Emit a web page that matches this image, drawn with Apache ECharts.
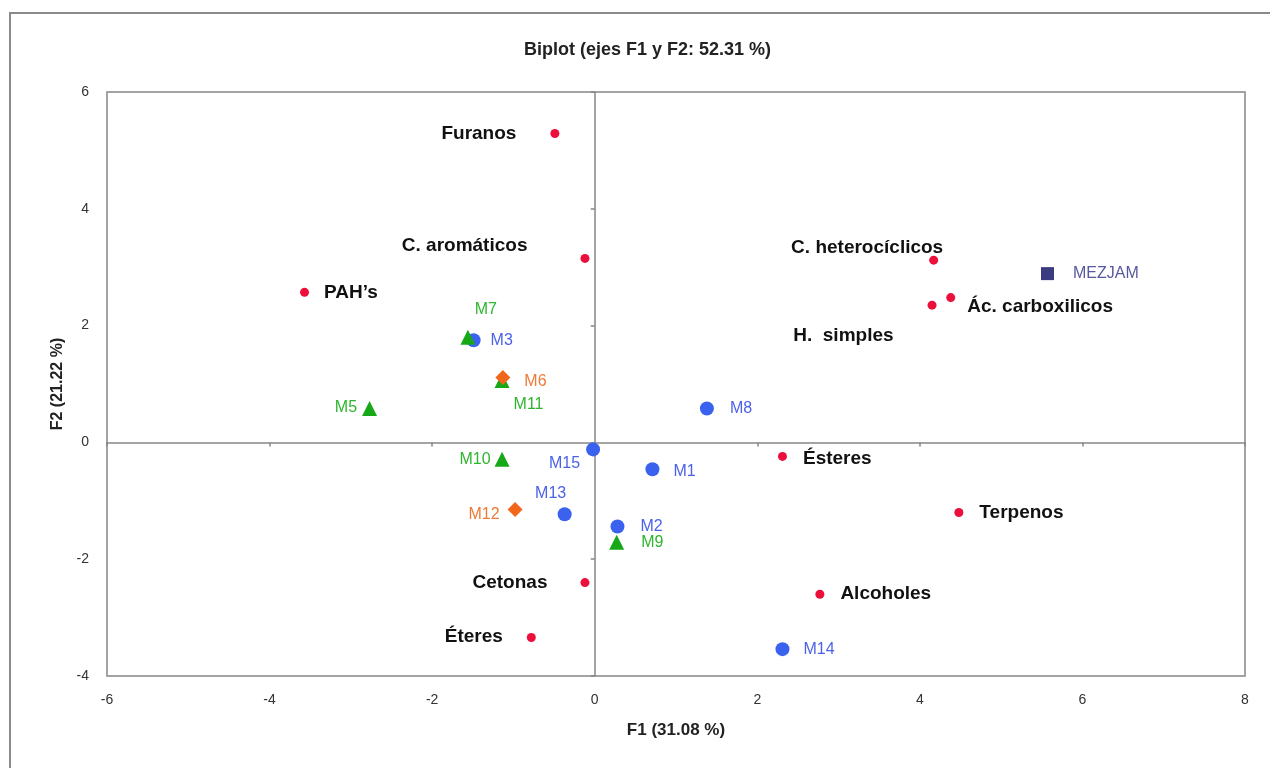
<!DOCTYPE html>
<html>
<head>
<meta charset="utf-8">
<script src="https://cdn.jsdelivr.net/npm/echarts@6/dist/echarts.min.js"></script>
<style>
  html, body { margin: 0; padding: 0; background: #fff; }
  #chart { width: 1270px; height: 768px; }
</style>
</head>
<body>
<div id="chart"></div>
<script>
// ticks of both axes
const xTicks = [-6, -4, -2, 0, 2, 4, 6, 8]
const yTicks = [-4, -2, 0, 2, 4, 6]

// variables (red dots)
const varNames = ['Furanos', 'C. aromáticos', 'PAH’s', 'C. heterocíclicos', 'Ác. carboxilicos', 'H.  simples', 'Ésteres', 'Terpenos', 'Alcoholes', 'Cetonas', 'Éteres']
const varF1 = [-0.49, -0.12, -3.57, 4.17, 4.38, 4.15, 2.31, 4.48, 2.77, -0.12, -0.78]
const varF2 = [5.29, 3.15, 2.57, 3.12, 2.48, 2.35, -0.24, -1.20, -2.60, -2.40, -3.34]

// observations, one group per colour
const blueNames = ['M3', 'M8', 'M15', 'M1', 'M13', 'M2', 'M14']
const blueF1 = [-1.49, 1.38, -0.02, 0.71, -0.37, 0.28, 2.31]
const blueF2 = [1.75, 0.58, -0.12, -0.46, -1.23, -1.44, -3.54]

const greenNames = ['M7', 'M5', 'M11', 'M10', 'M9']
const greenF1 = [-1.56, -2.77, -1.14, -1.14, 0.27]
const greenF2 = [1.80, 0.58, 1.06, -0.29, -1.71]

const orangeNames = ['M6', 'M12']
const orangeF1 = [-1.13, -0.98]
const orangeF2 = [1.11, -1.15]

const mixNames = ['MEZJAM']
const mixF1 = [5.57]
const mixF2 = [2.89]

// where each label sits: [position, distance, dx, dy]
const labelPlace = {
  'Furanos': ['left', 34, 0, 0],
  'C. aromáticos': ['left', 53, 0, -13],
  'PAH’s': ['right', 15, 0, 0],
  'C. heterocíclicos': ['left', -14, 0, -12],
  'Ác. carboxilicos': ['right', 12, 0, 9],
  'H.  simples': ['left', 34, 0, 31],
  'Ésteres': ['right', 16, 0, 2],
  'Terpenos': ['right', 16, 0, 0],
  'Alcoholes': ['right', 16, 0, 0],
  'Cetonas': ['left', 33, 0, 0],
  'Éteres': ['left', 24, 0, -1],
  'M3': ['right', 10, 0, 0],
  'M7': ['top', 12, 18, 0],
  'M6': ['right', 14, 0, 4],
  'M11': ['right', 4, 0, 24],
  'M5': ['left', 5, 0, -1],
  'M10': ['left', 4, 0, 0],
  'M15': ['left', 6, 0, 14],
  'M1': ['right', 14, 0, 2],
  'M13': ['top', 6, -14, 0],
  'M12': ['left', 8, 0, 5],
  'M2': ['right', 16, 0, 0],
  'M9': ['right', 17, 0, 0],
  'M8': ['right', 16, 0, 0],
  'M14': ['right', 14, 0, 0],
  'MEZJAM': ['right', 19, 0, 0]
}

function points(names, f1, f2) {
  return names.map((n, i) => {
    const p = labelPlace[n] || ['right', 5, 0, 0]
    return {
      name: n,
      value: [f1[i], f2[i]],
      label: { position: p[0], distance: p[1], offset: [p[2], p[3]] }
    }
  })
}

function group(names, f1, f2, symbol, size, color, textColor, bold) {
  return {
    type: 'scatter',
    xAxisIndex: 0,
    yAxisIndex: 0,
    symbol: symbol,
    symbolSize: size,
    itemStyle: { color: color, opacity: 1 },
    label: {
      show: true,
      formatter: '{b}',
      color: textColor,
      fontFamily: 'Liberation Sans, Arial, sans-serif',
      fontSize: bold ? 19 : 16,
      fontWeight: bold ? 'bold' : 'normal'
    },
    emphasis: { disabled: true },
    data: points(names, f1, f2)
  }
}

const tickFont = { color: '#333', fontSize: 14, fontFamily: 'Liberation Sans, Arial, sans-serif' }
const zeroLine = { show: true, onZero: true, onZeroAxisIndex: 0, lineStyle: { color: '#868686', width: 1.5 } }

const chart = echarts.init(document.getElementById('chart'))
chart.setOption({
  backgroundColor: '#fff',
  animation: false,
  title: {
    text: 'Biplot (ejes F1 y F2: 52.31 %)',
    left: 519,
    top: 36,
    textStyle: { fontSize: 18, fontWeight: 'bold', color: '#222', fontFamily: 'Liberation Sans, Arial, sans-serif' }
  },
  graphic: [{
    type: 'rect',
    shape: { x: 10, y: 13, width: 1290, height: 800 },
    style: { fill: 'none', stroke: '#8a8a8a', lineWidth: 2 },
    silent: true
  }],
  grid: {
    left: 107, right: 25, top: 92, bottom: 92,
    show: true, borderColor: '#868686', borderWidth: 1.5
  },
  xAxis: [{
    type: 'value',
    min: xTicks[0], max: xTicks[xTicks.length - 1], interval: xTicks[1] - xTicks[0],
    position: 'bottom',
    name: 'F1 (31.08 %)',
    nameLocation: 'middle',
    nameGap: 46,
    nameTextStyle: { fontSize: 17, fontWeight: 'bold', color: '#222', fontFamily: 'Liberation Sans, Arial, sans-serif' },
    axisLine: { show: false, onZero: false },
    axisTick: { show: false },
    splitLine: { show: false },
    axisLabel: Object.assign({ margin: 17 }, tickFont)
  }, {
    type: 'value',
    min: xTicks[0], max: xTicks[xTicks.length - 1], interval: xTicks[1] - xTicks[0],
    position: 'bottom',
    axisLine: zeroLine,
    axisTick: { show: true, length: 4, lineStyle: { color: '#868686', width: 1.5 } },
    axisLabel: { show: false },
    splitLine: { show: false }
  }],
  yAxis: [{
    type: 'value',
    min: yTicks[0], max: yTicks[yTicks.length - 1], interval: yTicks[1] - yTicks[0],
    position: 'left',
    name: 'F2 (21.22 %)',
    nameLocation: 'middle',
    nameGap: 36,
    nameTextStyle: { fontSize: 16, fontWeight: 'bold', color: '#222', fontFamily: 'Liberation Sans, Arial, sans-serif' },
    axisLine: { show: false, onZero: false },
    axisTick: { show: false },
    splitLine: { show: false },
    axisLabel: Object.assign({ margin: 18 }, tickFont)
  }, {
    type: 'value',
    min: yTicks[0], max: yTicks[yTicks.length - 1], interval: yTicks[1] - yTicks[0],
    position: 'left',
    axisLine: zeroLine,
    axisTick: { show: true, length: 4, lineStyle: { color: '#868686', width: 1.5 } },
    axisLabel: { show: false },
    splitLine: { show: false }
  }],
  series: [
    group(blueNames, blueF1, blueF2, 'circle', 14, '#3a62ee', '#4c62e6', false),
    group(greenNames, greenF1, greenF2, 'triangle', 15, '#17a817', '#2fb52f', false),
    group(orangeNames, orangeF1, orangeF2, 'diamond', 15, '#f0661a', '#ee7a38', false),
    group(mixNames, mixF1, mixF2, 'rect', 13, '#3b3b80', '#5858a0', false),
    group(varNames, varF1, varF2, 'circle', 9, '#ec0f3c', '#111', true)
  ]
})
</script>
</body>
</html>
